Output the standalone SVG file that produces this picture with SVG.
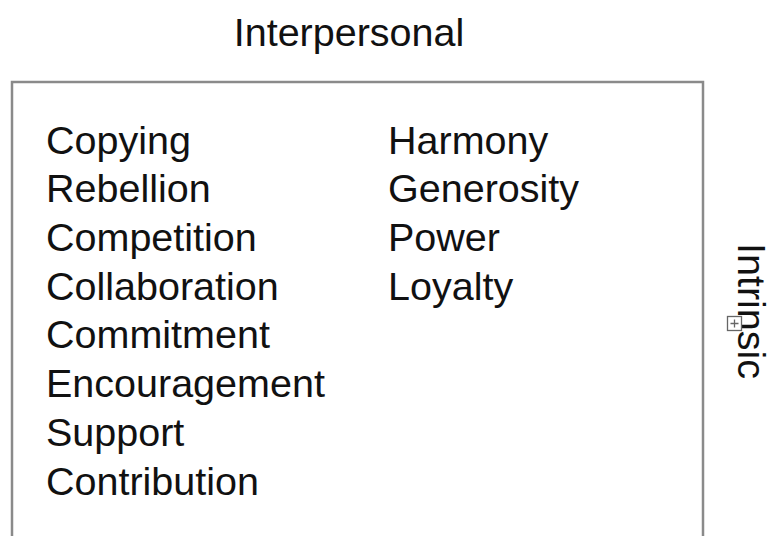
<svg xmlns="http://www.w3.org/2000/svg" width="774" height="536" viewBox="0 0 774 536">
<style>
.t{font-family:"Liberation Sans",Arial,sans-serif;font-size:39.5px;fill:#111}
</style>
<rect width="774" height="536" fill="#fff"/>
<g id="title"><text class="t" x="349" y="46" text-anchor="middle">Interpersonal</text></g>
<g id="box">
<path d="M12,540 V82 H703 V540" fill="none" stroke="#8a8a8a" stroke-width="2.5"/>
</g>
<g id="col1">
<text class="t" x="46" y="154">Copying</text>
<text class="t" x="46" y="202">Rebellion</text>
<text class="t" x="46" y="251">Competition</text>
<text class="t" x="46" y="300">Collaboration</text>
<text class="t" x="46" y="348">Commitment</text>
<text class="t" x="46" y="397">Encouragement</text>
<text class="t" x="46" y="446">Support</text>
<text class="t" x="46" y="495">Contribution</text>
</g>
<g id="col2">
<text class="t" x="388" y="154">Harmony</text>
<text class="t" x="388" y="202">Generosity</text>
<text class="t" x="388" y="251">Power</text>
<text class="t" x="388" y="300">Loyalty</text>
</g>
<g id="side">
<text class="t" transform="translate(738,243) rotate(90)">Intrinsic</text>
<g id="icon" fill="none" stroke="#666" stroke-width="1.3">
<rect x="727.5" y="316.5" width="14" height="14" fill="#fff"/>
<path d="M730.5,323.5 H738.5 M734.5,319.5 V327.5"/>
</g>
</g>
</svg>
